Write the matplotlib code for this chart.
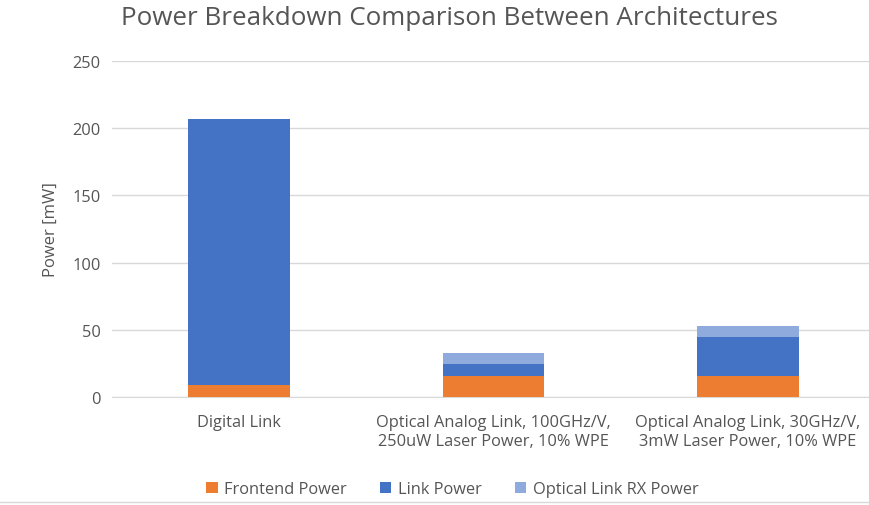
import matplotlib.pyplot as plt
import numpy as np

# data
categories = ["Digital Link",
              "Optical Analog Link, 100GHz/V,\n250uW Laser Power, 10% WPE",
              "Optical Analog Link, 30GHz/V,\n3mW Laser Power, 10% WPE"]
frontend = [9.0, 15.5, 15.3]
link = [198.0, 9.0, 29.2]
rx = [0.0, 8.6, 8.6]
series_names = ["Frontend Power", "Link Power", "Optical Link RX Power"]
colors = ["#ED7D31", "#4472C4", "#8FAADC"]

plt.rcParams['font.family'] = ['Open Sans', 'DejaVu Sans']

fig = plt.figure(figsize=(8.7, 5.06), dpi=100)
ax = fig.add_axes([0.1287, 0.2134, 0.8713, 0.6641])

x = np.arange(len(categories))
w = 0.4
bottom = np.zeros(len(categories))
for vals, name, c in zip([frontend, link, rx], series_names, colors):
    ax.bar(x, vals, w, bottom=bottom, color=c, label=name, zorder=3)
    bottom += np.array(vals)

ax.set_xlim(-0.5, 2.48)
ax.set_ylim(0, 250)
ax.set_yticks(range(0, 251, 50))
ax.yaxis.grid(True, color="#D9D9D9", linewidth=1, zorder=0)
for s in ["top", "right", "left"]:
    ax.spines[s].set_visible(False)
ax.spines["bottom"].set_color("#D9D9D9")
ax.tick_params(axis="both", length=0, colors="#555555", labelsize=11.8, pad=8)
ax.set_xticks(x)
ax.set_xticklabels(categories, fontsize=11.8, color="#555555", linespacing=1.3)
ax.tick_params(axis="x", pad=12)
ax.set_ylabel("Power [mW]", fontsize=12, color="#555555", labelpad=10)

fig.suptitle("Power Breakdown Comparison Between Architectures", fontsize=18.7,
             color="#555555", x=0.517, y=0.988)

fig.legend(loc="center", bbox_to_anchor=(0.52, 0.031), ncol=3, frameon=False,
           fontsize=11.8, handlelength=0.7, handleheight=0.7, handletextpad=0.4,
           columnspacing=2.0, labelcolor="#555555")

fig.add_artist(plt.Line2D([0, 1], [0.006, 0.006], color="#D9D9D9", linewidth=1))

fig.savefig("out.png", dpi=100)
